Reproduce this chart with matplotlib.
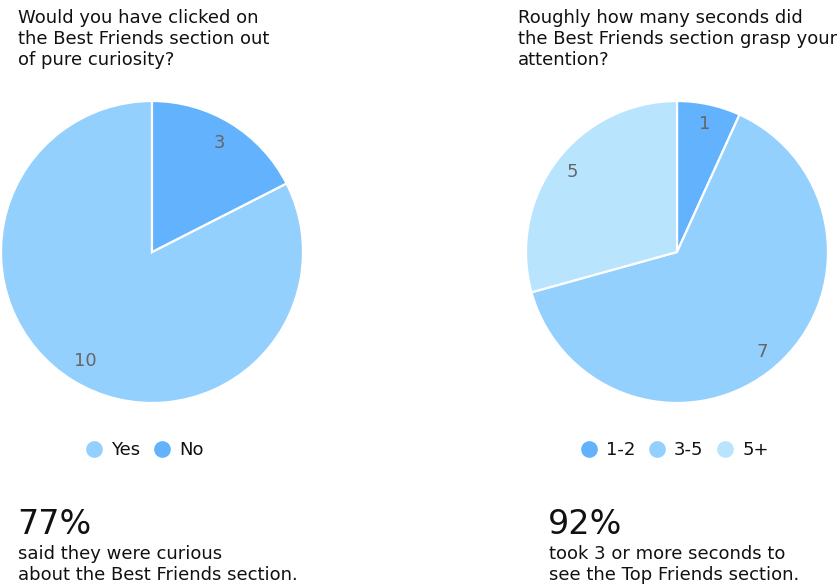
import matplotlib
matplotlib.use("Agg")
import matplotlib.pyplot as plt
from matplotlib.lines import Line2D

# Data
curious_labels = ["Yes", "No"]
curious_counts = [10, 3]
curious_share = [82.5, 17.5]      # slice sizes as drawn in the picture

seconds_labels = ["1-2", "3-5", "5+"]
seconds_counts = [1, 7, 5]
seconds_share = [6.8, 63.9, 29.3]  # slice sizes as drawn in the picture

curious_colors = ["#93D0FE", "#62B2FD"]
seconds_colors = ["#62B2FD", "#93D0FE", "#B8E4FE"]

TEXT = "#111111"
LABEL = "#666666"
W, H = 840, 585
FS = 13

plt.rcParams['font.family'] = ['DejaVu Sans']

fig = plt.figure(figsize=(W / 100, H / 100), dpi=100)
fig.patch.set_facecolor("white")


def px(x, y):
    return x / W, 1 - y / H


def draw_pie(cx, cy, r, share, counts, colors, counterclock, ldist):
    left, bottom = px(cx - r, cy + r)
    ax = fig.add_axes([left, bottom, 2 * r / W, 2 * r / H])
    wedges, texts = ax.pie(share, labels=[str(c) for c in counts], colors=colors,
                           startangle=90, counterclock=counterclock,
                           labeldistance=ldist,
                           wedgeprops=dict(edgecolor="white", linewidth=1.6),
                           textprops=dict(color=LABEL, fontsize=FS))
    for t in texts:
        t.set_ha("center")
        t.set_va("center")
    ax.set_xlim(-1.0, 1.0)
    ax.set_ylim(-1.0, 1.0)
    ax.set_aspect("equal")
    return ax


draw_pie(152, 252, 151, curious_share, curious_counts, curious_colors, True, 0.85)
draw_pie(677, 252, 151, seconds_share, seconds_counts, seconds_colors, False, 0.87)


def legend(cx, cy, labels, colors):
    handles = [Line2D([], [], marker="o", linestyle="none", markersize=11,
                      markerfacecolor=c, markeredgecolor=c) for c in colors]
    fig.legend(handles, labels, loc="center", bbox_to_anchor=px(cx, cy),
               ncol=len(labels), frameon=False, fontsize=FS, handlelength=0.85,
               handletextpad=0.5, columnspacing=0.8, labelcolor=TEXT)


legend(145, 450, curious_labels, curious_colors)
legend(675, 450, seconds_labels, seconds_colors)

# Titles (anchored at the baseline of the last line)
fig.text(*px(18, 65), "Would you have clicked on\nthe Best Friends section out\nof pure curiosity?",
         ha="left", va="baseline", fontsize=FS, color=TEXT, linespacing=1.22)
fig.text(*px(518, 65), "Roughly how many seconds did\nthe Best Friends section grasp your\nattention?",
         ha="left", va="baseline", fontsize=FS, color=TEXT, linespacing=1.22)

# Summary stats
fig.text(*px(17, 534), "77%", ha="left", va="baseline", fontsize=24, color=TEXT)
fig.text(*px(18, 580), "said they were curious\nabout the Best Friends section.",
         ha="left", va="baseline", fontsize=FS, color=TEXT, linespacing=1.22)
fig.text(*px(548, 534), "92%", ha="left", va="baseline", fontsize=24, color=TEXT)
fig.text(*px(549, 580), "took 3 or more seconds to\nsee the Top Friends section.",
         ha="left", va="baseline", fontsize=FS, color=TEXT, linespacing=1.22)

fig.savefig("out.png", dpi=100, facecolor="white")
